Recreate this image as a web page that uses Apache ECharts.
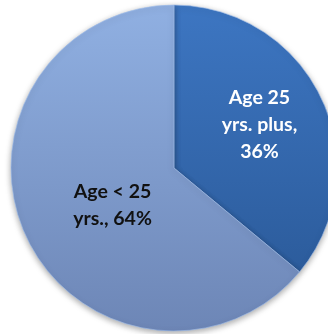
<!DOCTYPE html>
<html>
<head>
<meta charset="utf-8">
<script src="https://cdn.jsdelivr.net/npm/echarts@6/dist/echarts.min.js"></script>
<style>
  html, body { margin: 0; padding: 0; background: #fff; }
  #chart { width: 328px; height: 334px; }
</style>
</head>
<body>
<div id="chart"></div>
<script>
var labels = ['Age 25\nyrs. plus,', 'Age < 25\nyrs.,'];
var shares = [36, 64];

// top/bottom shades of each slice
var topColors = ['#3d76c2', '#90b0e2'];
var bottomColors = ['#2c5c9c', '#6d86b6'];
var textColors = ['#ffffff', '#111111'];
var offsets = [[9, -7], [15, 1]];

function grad(i)
{
    return new echarts.graphic.LinearGradient(0, 0, 0, 1, [
        {offset: 0, color: topColors[i]},
        {offset: 1, color: bottomColors[i]}
    ]);
}

var chart = echarts.init(document.getElementById('chart'));

chart.setOption({
    animation: false,
    series: [{
        type: 'pie',
        center: [174, 168],
        radius: [0, 163],
        startAngle: 90,
        clockwise: true,
        label: {
            position: 'inside',
            fontFamily: 'Lato',
            fontWeight: 'bold',
            fontSize: 19.5,
            lineHeight: 27,
            align: 'center',
            formatter: function (p) {
                return p.name + (p.dataIndex === 0 ? '\n' : ' ') + p.value + '%';
            }
        },
        labelLine: {show: false},
        emphasis: {disabled: true},
        data: shares.map(function (v, i) {
            return {
                name: labels[i],
                value: v,
                itemStyle: {
                    color: grad(i),
                    borderColor: 'rgba(160,190,235,0.6)',
                    borderWidth: 1,
                    shadowColor: 'rgba(0,0,0,0.35)',
                    shadowBlur: 6,
                    shadowOffsetY: 2
                },
                label: {color: textColors[i], offset: offsets[i]}
            };
        })
    }]
});
</script>
</body>
</html>
